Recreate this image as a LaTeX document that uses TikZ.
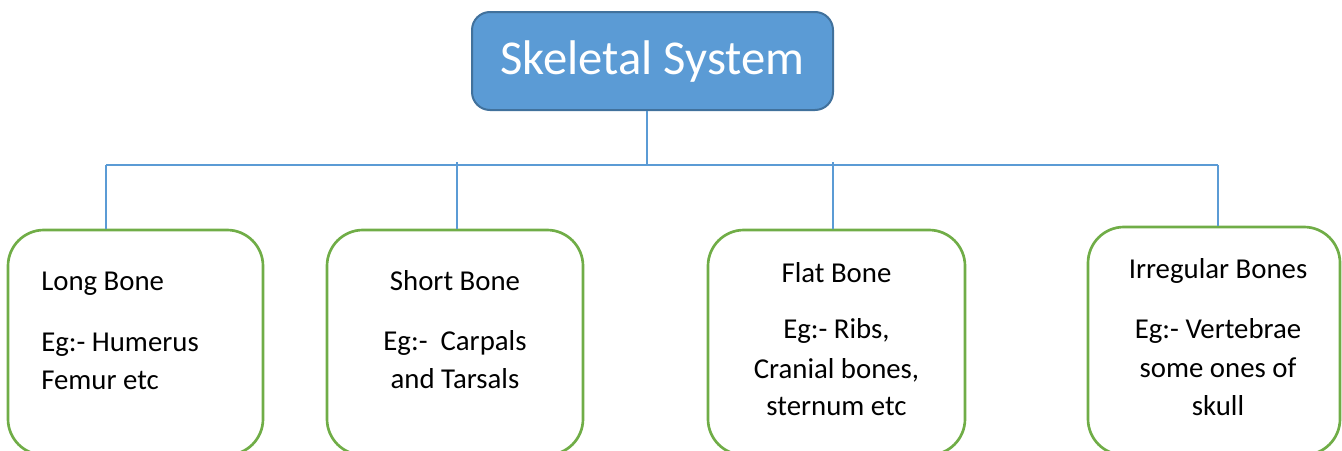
\documentclass[tikz,border=0pt]{standalone}
\usepackage{fontspec}
\setmainfont{Carlito}
\definecolor{topfill}{HTML}{5B9BD5}
\definecolor{topdraw}{HTML}{41719C}
\definecolor{boxgreen}{HTML}{70AD47}
\definecolor{linkblue}{HTML}{5B9BD5}
\begin{document}
\begin{tikzpicture}[x=0.75pt,y=-0.75pt,
  topbox/.style={draw=topdraw,fill=topfill,line width=1.5pt,rounded corners=13.5pt,
    minimum width=270.75pt,minimum height=73.5pt,inner sep=0pt},
  bonebox/.style={draw=boxgreen,line width=2pt,rounded corners=27pt,
    minimum height=168.75pt,inner sep=0pt},
  link/.style={draw=linkblue,line width=1pt},
  title/.style={anchor=base,font=\fontsize{36.5}{44}\selectfont,text=white,inner sep=0pt},
  lbl/.style={anchor=base,font=\fontsize{21.6}{26}\selectfont,inner sep=0pt},
  lbll/.style={anchor=base west,font=\fontsize{21.6}{26}\selectfont,inner sep=0pt}]
\path[use as bounding box,clip] (0,0) rectangle (1342,450);
% boxes
\node[topbox] (top) at (652.5,61) {};
\node[title] (toptext) at (652.5,74) {Skeletal System};
\node[bonebox,minimum width=191.25pt] (b1) at (135.5,342.5) {};
\node[bonebox,minimum width=192pt] (b2) at (455,342.5) {};
\node[bonebox,minimum width=192.75pt] (b3) at (836.5,342.5) {};
\node[bonebox,minimum width=189pt,minimum height=171pt] (b4) at (1214,341) {};
% connectors
\coordinate (hub) at (647,165);
\coordinate (d1) at (106,165);
\coordinate (d2) at (457,162);
\coordinate (d3) at (833,162);
\coordinate (d4) at (1218,165);
\draw[link] (hub |- top.south) -- (hub);
\draw[link] (d1) -- (d4);
\draw[link] (d1) -- (d1 |- b1.north);
\draw[link] (d2) -- (d2 |- b2.north);
\draw[link] (d3) -- (d3 |- b3.north);
\draw[link] (d4) -- (d4 |- b4.north);
% texts
\node[lbll] (t11) at (41,290) {Long Bone};
\node[lbll] (t12) at (41,351) {Eg:- Humerus};
\node[lbll] (t13) at (41,389) {Femur etc};
\node[lbl] (t21) at (455,290) {Short Bone};
\node[lbl] (t22) at (455,350) {Eg:-\ \ Carpals};
\node[lbl] (t23) at (455,388) {and Tarsals};
\node[lbl] (t31) at (836.5,282) {Flat Bone};
\node[lbl] (t32) at (836.5,338) {Eg:- Ribs,};
\node[lbl] (t33) at (836.5,378) {Cranial bones,};
\node[lbl] (t34) at (836.5,415) {sternum etc};
\node[lbl] (t41) at (1218,278) {Irregular Bones};
\node[lbl] (t42) at (1218,338) {Eg:- Vertebrae};
\node[lbl] (t43) at (1218,377) {some ones of};
\node[lbl] (t44) at (1218,415) {skull};
\end{tikzpicture}
\end{document}
